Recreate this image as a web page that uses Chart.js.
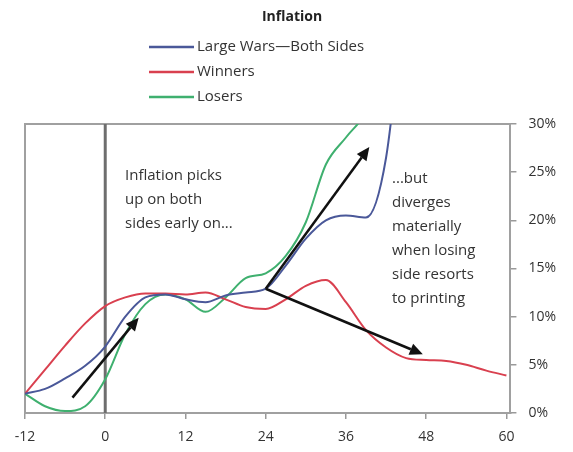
<!DOCTYPE html>
<html>
<head>
<meta charset="utf-8">
<script src="https://cdn.jsdelivr.net/npm/chart.js@4.4.1/dist/chart.umd.min.js"></script>
<style>
  html, body { margin: 0; padding: 0; background: #fff; }
</style>
</head>
<body>
<canvas id="chart1" width="573" height="452"></canvas>
<script>
// months relative to start of war
const months = [-12, -9, -6, -3, 0, 3, 6, 9, 12, 15, 18, 21, 24, 27, 30, 33, 36, 39, 42, 45, 48, 51, 54, 57, 60];
const xTicks = [-12, 0, 12, 24, 36, 48, 60];
const yTicks = [0, 5, 10, 15, 20, 25, 30];

// inflation, % (values above 30 run off the top of the chart)
const largeWars = [2.0, 2.5, 3.6, 4.9, 6.9, 10.0, 12.0, 12.3, 11.8, 11.5, 12.2, 12.5, 12.9, 15.3, 18.1, 20.0, 20.5, 20.3, 26.5, 45.0, null, null, null, null, null];
const winners   = [2.0, 4.5, 7.0, 9.3, 11.1, 12.0, 12.4, 12.4, 12.3, 12.5, 11.8, 11.0, 10.8, 11.8, 13.2, 13.8, 11.5, 8.6, 6.8, 5.7, 5.5, 5.4, 5.0, 4.4, 3.9];
const losers    = [2.0, 0.7, 0.2, 0.7, 3.5, 8.2, 11.3, 12.3, 11.8, 10.5, 12.0, 14.0, 14.5, 16.3, 19.8, 25.8, 28.6, 31.2, 36.0, null, null, null, null, null, null];

const seriesNames = ['Large Wars\u2014Both Sides', 'Winners', 'Losers'];
const seriesColors = ['#4a5899', '#d9404f', '#3fb06f'];

// annotation arrows [x0, y0, x1, y1] in data units
const arrows = [
  [-4.9, 1.6, 5.0, 9.9],
  [24.0, 12.9, 39.5, 27.6],
  [24.0, 12.9, 47.5, 6.1]
];
const noteLeft = ['Inflation picks', 'up on both', 'sides early on...'];
const noteRight = ['...but', 'diverges', 'materially', 'when losing', 'side resorts', 'to printing'];

const FONT = '"Open Sans", "Noto Sans", sans-serif';

const extras = {
  id: 'extras',
  beforeDatasetsDraw(chart) {
    const c = chart.ctx, a = chart.chartArea, xs = chart.scales.x;
    c.save();
    c.strokeStyle = '#a0a0a0';
    c.lineWidth = 2;
    c.beginPath();
    c.moveTo(a.left, a.bottom);
    c.lineTo(a.left, a.top);
    c.lineTo(a.right, a.top);
    c.stroke();
    // start of war
    const x0 = xs.getPixelForValue(0);
    c.strokeStyle = '#6e6e6e';
    c.lineWidth = 3;
    c.beginPath();
    c.moveTo(x0, a.top);
    c.lineTo(x0, a.bottom);
    c.stroke();
    c.restore();
  },
  afterDraw(chart) {
    const c = chart.ctx, xs = chart.scales.x, ys = chart.scales.y;
    c.save();
    // title
    c.fillStyle = '#222';
    c.font = 'bold 14px ' + FONT;
    c.textAlign = 'center';
    c.textBaseline = 'middle';
    c.fillText('Inflation', 292, 17);
    // legend
    c.font = '15px ' + FONT;
    c.textAlign = 'left';
    seriesNames.forEach((n, i) => {
      const y = 47 + i * 25;
      c.strokeStyle = seriesColors[i];
      c.lineWidth = 2.5;
      c.beginPath();
      c.moveTo(149, y);
      c.lineTo(194, y);
      c.stroke();
      c.fillStyle = '#333';
      c.fillText(n, 197, y);
    });
    // arrows
    c.strokeStyle = '#111';
    c.fillStyle = '#111';
    c.lineWidth = 2.5;
    arrows.forEach(([ax0, ay0, ax1, ay1]) => {
      const p0x = xs.getPixelForValue(ax0), p0y = ys.getPixelForValue(ay0);
      const p1x = xs.getPixelForValue(ax1), p1y = ys.getPixelForValue(ay1);
      const ang = Math.atan2(p1y - p0y, p1x - p0x);
      const hl = 13, hw = 6;
      const bx = p1x - hl * Math.cos(ang), by = p1y - hl * Math.sin(ang);
      c.beginPath();
      c.moveTo(p0x, p0y);
      c.lineTo(bx, by);
      c.stroke();
      c.beginPath();
      c.moveTo(p1x, p1y);
      c.lineTo(bx + hw * Math.sin(ang), by - hw * Math.cos(ang));
      c.lineTo(bx - hw * Math.sin(ang), by + hw * Math.cos(ang));
      c.closePath();
      c.fill();
    });
    // notes
    c.fillStyle = '#333';
    c.font = '15px ' + FONT;
    c.textAlign = 'left';
    noteLeft.forEach((t, i) => c.fillText(t, 125, 176 + i * 24));
    noteRight.forEach((t, i) => c.fillText(t, 392, 179 + i * 24));
    c.restore();
  }
};

const mkSet = (label, data, color) => ({
  label: label,
  data: data,
  borderColor: color,
  backgroundColor: color,
  borderWidth: 2,
  pointRadius: 0,
  cubicInterpolationMode: 'monotone',
  spanGaps: false
});

new Chart(document.getElementById('chart1'), {
  type: 'line',
  data: {
    labels: months,
    datasets: [
      mkSet(seriesNames[0], largeWars, seriesColors[0]),
      mkSet(seriesNames[1], winners, seriesColors[1]),
      mkSet(seriesNames[2], losers, seriesColors[2])
    ]
  },
  options: {
    responsive: false,
    animation: false,
    layout: { padding: { top: 124, left: 25, right: 5, bottom: -3 } },
    scales: {
      x: {
        type: 'linear',
        min: -12,
        max: 60.6,
        afterBuildTicks: s => { s.ticks = xTicks.map(v => ({ value: v })); },
        grid: { drawOnChartArea: false, drawTicks: true, tickLength: 6, color: '#999', lineWidth: 1.5 },
        border: { display: true, color: '#a0a0a0', width: 2 },
        ticks: { color: '#333', font: { family: FONT, size: 14, lineHeight: 1 }, padding: 11, maxRotation: 0 }
      },
      y: {
        position: 'right',
        min: 0,
        max: 30,
        afterBuildTicks: s => { s.ticks = yTicks.map(v => ({ value: v })); },
        grid: { drawOnChartArea: false, drawTicks: true, tickLength: 6, color: '#999', lineWidth: 1.5 },
        border: { display: true, color: '#a0a0a0', width: 2 },
        ticks: { color: '#333', font: { family: FONT, size: 14 }, padding: 12, callback: v => v + '%' }
      }
    },
    plugins: {
      legend: { display: false },
      tooltip: { enabled: false }
    }
  },
  plugins: [extras]
});
</script>
</body>
</html>
